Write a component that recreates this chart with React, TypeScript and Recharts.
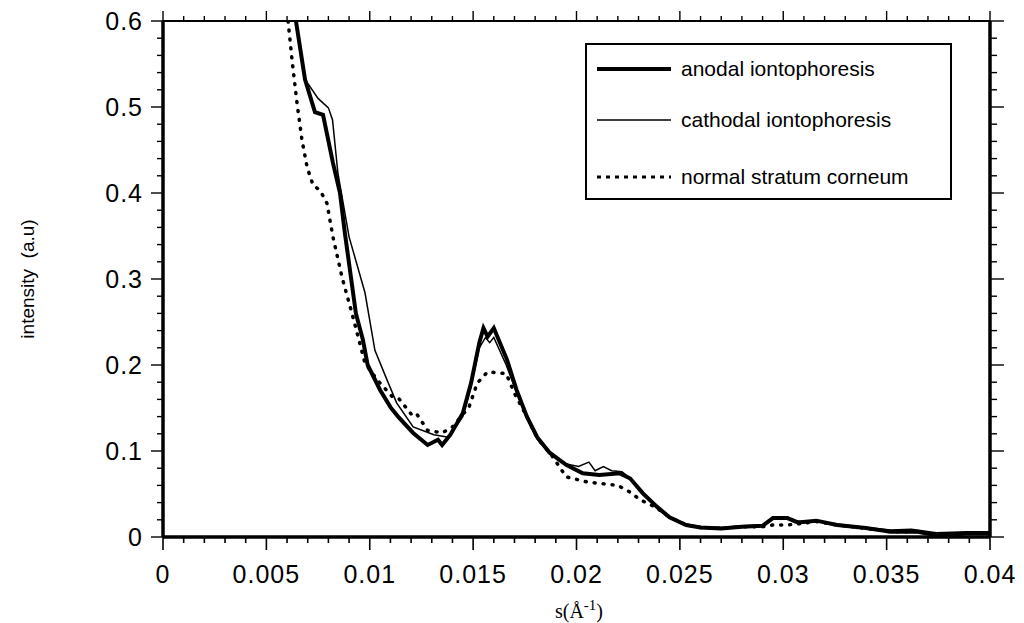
import { LineChart, Line, XAxis, YAxis } from "recharts";

// s (1/Å) and intensity
const anodalS = [0.00643, 0.00687, 0.00735, 0.00774, 0.00822, 0.00856, 0.0088, 0.00933, 0.00967, 0.0099, 0.0105, 0.011, 0.01137, 0.0121, 0.0128, 0.0133, 0.0135, 0.0139, 0.0145, 0.0149, 0.0153, 0.0155, 0.0157, 0.016, 0.01664, 0.0171, 0.0176, 0.0181, 0.0187, 0.0195, 0.0203, 0.0211, 0.0221, 0.0226, 0.0232, 0.0239, 0.0245, 0.0253, 0.026, 0.027, 0.028, 0.029, 0.0295, 0.0302, 0.0307, 0.0316, 0.0326, 0.034, 0.0352, 0.0365, 0.0374, 0.0389, 0.04];
const anodalI = [0.6, 0.532, 0.494, 0.491, 0.435, 0.4, 0.353, 0.26, 0.229, 0.2, 0.171, 0.151, 0.14, 0.121, 0.107, 0.113, 0.107, 0.119, 0.144, 0.179, 0.226, 0.243, 0.233, 0.243, 0.206, 0.171, 0.14, 0.116, 0.098, 0.084, 0.074, 0.072, 0.074, 0.068, 0.051, 0.035, 0.023, 0.014, 0.011, 0.01, 0.012, 0.013, 0.022, 0.022, 0.017, 0.019, 0.014, 0.0105, 0.006, 0.006, 0.002, 0.004, 0.004];

const cathodalS = [0.00643, 0.00687, 0.0075, 0.008, 0.0082, 0.00846, 0.009, 0.00977, 0.01025, 0.01083, 0.0113, 0.0121, 0.0131, 0.0138, 0.0145, 0.0149, 0.0153, 0.0156, 0.0158, 0.016, 0.0166, 0.0171, 0.0176, 0.0181, 0.0187, 0.0195, 0.0201, 0.0206, 0.0209, 0.0213, 0.0217, 0.0222, 0.0227, 0.0233, 0.0239, 0.0245, 0.0253, 0.026, 0.027, 0.028, 0.029, 0.0295, 0.0302, 0.0308, 0.0316, 0.0326, 0.034, 0.0352, 0.0362, 0.0374, 0.0389, 0.04];
const cathodalI = [0.6, 0.532, 0.51, 0.499, 0.485, 0.423, 0.349, 0.284, 0.217, 0.183, 0.156, 0.128, 0.119, 0.116, 0.14, 0.175, 0.22, 0.232, 0.226, 0.232, 0.2, 0.168, 0.138, 0.114, 0.097, 0.085, 0.082, 0.087, 0.077, 0.082, 0.077, 0.076, 0.066, 0.05, 0.034, 0.022, 0.015, 0.012, 0.011, 0.013, 0.014, 0.021, 0.021, 0.018, 0.018, 0.015, 0.011, 0.008, 0.009, 0.005, 0.006, 0.006];

const normalS = [0.00605, 0.00624, 0.00648, 0.00672, 0.00697, 0.00726, 0.0076, 0.00793, 0.00822, 0.00866, 0.00914, 0.00977, 0.01035, 0.0111, 0.0114, 0.0121, 0.0123, 0.0128, 0.0135, 0.014, 0.0148, 0.0152, 0.0157, 0.0162, 0.0166, 0.017, 0.0176, 0.0181, 0.0188, 0.0195, 0.0205, 0.022, 0.0226, 0.0231, 0.0238, 0.0245, 0.0253, 0.026, 0.027, 0.028, 0.029, 0.0295, 0.0302, 0.031, 0.0316, 0.0326, 0.034, 0.0352, 0.0365, 0.0374, 0.0389, 0.04];
const normalI = [0.6, 0.555, 0.505, 0.462, 0.43, 0.409, 0.403, 0.388, 0.349, 0.302, 0.26, 0.202, 0.183, 0.163, 0.161, 0.14, 0.142, 0.124, 0.121, 0.128, 0.151, 0.179, 0.192, 0.191, 0.19, 0.167, 0.14, 0.115, 0.095, 0.07, 0.064, 0.06, 0.052, 0.043, 0.035, 0.023, 0.014, 0.011, 0.01, 0.012, 0.012, 0.014, 0.014, 0.016, 0.018, 0.014, 0.01, 0.006, 0.006, 0.003, 0.004, 0.004];

const xTickLabels = ["0", "0.005", "0.01", "0.015", "0.02", "0.025", "0.03", "0.035", "0.04"];
const yTickLabels = ["0", "0.1", "0.2", "0.3", "0.4", "0.5", "0.6"];

const seriesNames = ["anodal iontophoresis", "cathodal iontophoresis", "normal stratum corneum"];

// minor ticks every 0.001 on x, every 0.02 on y
const xTicks = Array.from({ length: 41 }, (_, i) => i / 1000);
const yTicks = Array.from({ length: 31 }, (_, i) => i / 50);

const toRows = (s: number[], v: number[]) => s.map((x, i) => ({ s: x, v: v[i] }));
const anodal = toRows(anodalS, anodalI);
const cathodal = toRows(cathodalS, cathodalI);
const normal = toRows(normalS, normalI);

const FONT = "'Liberation Sans', Arial, Helvetica, sans-serif";

const isMajorX = (v: number) => Math.round(v * 1000) % 5 === 0;
const isMajorY = (v: number) => Math.round(v * 50) % 5 === 0;

const BottomTick = (props: any) => {
  const { x, y, payload } = props;
  const major = isMajorX(payload.value);
  return (
    <g>
      <line x1={x} y1={y} x2={x} y2={y + (major ? 13 : 6)} stroke="#000" strokeWidth={1.6} />
      {major && (
        <text x={x} y={y + 46} textAnchor="middle" fontSize={25} fontFamily={FONT} fill="#000" letterSpacing={1}>
          {xTickLabels[Math.round(payload.value * 200)]}
        </text>
      )}
    </g>
  );
};

const TopTick = (props: any) => {
  const { x, y, payload } = props;
  const major = isMajorX(payload.value);
  return <line x1={x} y1={y} x2={x} y2={y - (major ? 10 : 5)} stroke="#000" strokeWidth={1.4} />;
};

const LeftTick = (props: any) => {
  const { x, y, payload } = props;
  const major = isMajorY(payload.value);
  return (
    <g>
      <line x1={x} y1={y} x2={x - (major ? 12 : 6)} y2={y} stroke="#000" strokeWidth={1.4} />
      {major && (
        <text x={x - 20} y={y + 9} textAnchor="end" fontSize={25} fontFamily={FONT} fill="#000" letterSpacing={1}>
          {yTickLabels[Math.round(payload.value * 10)]}
        </text>
      )}
    </g>
  );
};

const RightTick = (props: any) => {
  const { x, y, payload } = props;
  const major = isMajorY(payload.value);
  return <line x1={x} y1={y} x2={x + (major ? 14 : 7)} y2={y} stroke="#000" strokeWidth={1.4} />;
};

const LegendBox = () => (
  <div
    style={{
      position: "absolute",
      left: 585,
      top: 43,
      width: 363,
      height: 153,
      border: "2px solid #000",
      background: "#fff",
      fontFamily: FONT,
      fontSize: 21,
    }}
  >
    {seriesNames.map((name, i) => (
      <div key={name} style={{ position: "absolute", left: 8, top: [10, 61, 118][i], display: "flex", alignItems: "center", height: 28 }}>
        <svg width={78} height={10} style={{ marginRight: 8 }}>
          <line
            x1={2}
            y1={5}
            x2={76}
            y2={5}
            stroke="#000"
            strokeWidth={[4, 1.5, 3][i]}
            strokeDasharray={i === 2 ? "4 5" : undefined}
          />
        </svg>
        <span style={{ whiteSpace: "nowrap" }}>{name}</span>
      </div>
    ))}
  </div>
);

export default function App() {
  return (
    <div style={{ position: "absolute", left: 0, top: 0, width: 1024, height: 623, background: "#fff" }}>
      <LineChart width={1024} height={623} margin={{ top: 11, right: 14, bottom: 26, left: 63 }}>
        <XAxis
          xAxisId="bottom"
          dataKey="s"
          type="number"
          domain={[0, 0.04]}
          ticks={xTicks}
          interval={0}
          height={60}
          tickSize={0}
          tickMargin={0}
          tickLine={false}
          axisLine={{ stroke: "#000", strokeWidth: 3.5 }}
          tick={<BottomTick />}
          allowDataOverflow
        />
        <XAxis
          xAxisId="top"
          orientation="top"
          dataKey="s"
          type="number"
          domain={[0, 0.04]}
          ticks={xTicks}
          interval={0}
          height={10}
          tickSize={0}
          tickMargin={0}
          tickLine={false}
          axisLine={{ stroke: "#000", strokeWidth: 2 }}
          tick={<TopTick />}
          allowDataOverflow
        />
        <YAxis
          yAxisId="left"
          type="number"
          domain={[0, 0.6]}
          ticks={yTicks}
          interval={0}
          width={100}
          tickSize={0}
          tickMargin={0}
          tickLine={false}
          axisLine={{ stroke: "#000", strokeWidth: 3.5 }}
          tick={<LeftTick />}
          allowDataOverflow
        />
        <YAxis
          yAxisId="right"
          orientation="right"
          type="number"
          domain={[0, 0.6]}
          ticks={yTicks}
          interval={0}
          width={20}
          tickSize={0}
          tickMargin={0}
          tickLine={false}
          axisLine={{ stroke: "#000", strokeWidth: 3.5 }}
          tick={<RightTick />}
          allowDataOverflow
        />
        <Line
          xAxisId="bottom"
          yAxisId="left"
          data={normal}
          dataKey="v"
          name={seriesNames[2]}
          stroke="#000"
          strokeWidth={3.5}
          strokeDasharray="1 8"
          strokeLinecap="round"
          dot={false}
          type="linear"
          isAnimationActive={false}
        />
        <Line
          xAxisId="bottom"
          yAxisId="left"
          data={cathodal}
          dataKey="v"
          name={seriesNames[1]}
          stroke="#000"
          strokeWidth={1.5}
          dot={false}
          type="linear"
          isAnimationActive={false}
        />
        <Line
          xAxisId="bottom"
          yAxisId="left"
          data={anodal}
          dataKey="v"
          name={seriesNames[0]}
          stroke="#000"
          strokeWidth={4}
          dot={false}
          type="linear"
          isAnimationActive={false}
        />
        <text
          x={27}
          y={279}
          transform="rotate(-90 27 279)"
          textAnchor="middle"
          dominantBaseline="central"
          fontSize={19}
          fontFamily={FONT}
          fill="#000"
          style={{ whiteSpace: "pre" }}
        >
          {"intensity  (a.u)"}
        </text>
        <text x={579} y={618} textAnchor="middle" fontSize={20} fontFamily="'Liberation Serif', 'Times New Roman', serif" fill="#000">
          s(Å
          <tspan dy={-8} fontSize={15}>-1</tspan>
          <tspan dy={8}>)</tspan>
        </text>
      </LineChart>
      <LegendBox />
    </div>
  );
}
